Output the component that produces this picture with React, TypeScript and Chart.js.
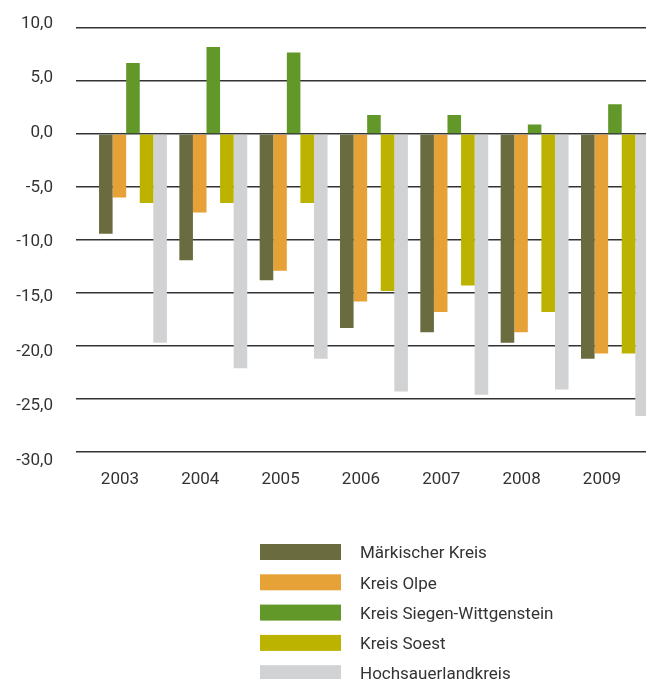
import { useEffect, useRef } from 'react';
import { Chart, registerables } from 'chart.js';

Chart.register(...registerables);

// Change in percent per district, 2003–2009
const years = ['2003', '2004', '2005', '2006', '2007', '2008', '2009'];
const maerkischerKreis = [-9.4, -11.9, -13.8, -18.3, -18.7, -19.7, -21.2];
const kreisOlpe = [-6.0, -7.4, -12.9, -15.8, -16.8, -18.7, -20.7];
const kreisSiegenWittgenstein = [6.7, 8.2, 7.7, 1.8, 1.8, 0.9, 2.8];
const kreisSoest = [-6.5, -6.5, -6.5, -14.8, -14.3, -16.8, -20.7];
const hochsauerlandkreis = [-19.7, -22.1, -21.2, -24.3, -24.6, -24.1, -26.6];

const seriesNames = [
  'Märkischer Kreis',
  'Kreis Olpe',
  'Kreis Siegen-Wittgenstein',
  'Kreis Soest',
  'Hochsauerlandkreis',
];
const seriesColors = ['#6a6b3e', '#e6a236', '#629829', '#bcb300', '#d1d2d3'];

const TEXT_COLOR = '#333333';
const FONT_FAMILY = 'Roboto, "Noto Sans", sans-serif';
const FONT_SIZE = 17;

const fmt = (v: number) => v.toFixed(1).replace('.', ',');

// Vertical legend drawn below the axis labels
const stackedLegend = {
  id: 'stackedLegend',
  afterDraw(chart: any) {
    const { ctx } = chart;
    const boxX = 260;
    const boxW = 81;
    const boxH = 16;
    const textX = 360;
    const firstTop = 544;
    const rowStep = 30.3;
    ctx.save();
    ctx.font = `${FONT_SIZE}px ${FONT_FAMILY}`;
    ctx.textBaseline = 'middle';
    ctx.textAlign = 'left';
    chart.data.datasets.forEach((ds: any, i: number) => {
      const top = firstTop + i * rowStep;
      ctx.fillStyle = ds.backgroundColor;
      ctx.fillRect(boxX, top, boxW, boxH);
      ctx.fillStyle = TEXT_COLOR;
      ctx.fillText(ds.label, textX, top + boxH / 2 + 2);
    });
    ctx.restore();
  },
};

export default function App() {
  const canvasRef = useRef<HTMLCanvasElement | null>(null);

  useEffect(() => {
    if (!canvasRef.current) return;
    const values = [
      maerkischerKreis,
      kreisOlpe,
      kreisSiegenWittgenstein,
      kreisSoest,
      hochsauerlandkreis,
    ];
    const chart = new Chart(canvasRef.current, {
      type: 'bar',
      data: {
        labels: years,
        datasets: values.map((data, i) => ({
          label: seriesNames[i],
          data,
          backgroundColor: seriesColors[i],
          borderWidth: 0,
          categoryPercentage: 0.845,
          barPercentage: 1.0,
          yAxisID: 'y',
        })),
      },
      options: {
        animation: false,
        responsive: false,
        devicePixelRatio: 1,
        layout: { padding: { left: 0, right: 44.9, top: 23.5, bottom: 179 } },
        plugins: {
          legend: { display: false },
          tooltip: { enabled: false },
        },
        scales: {
          x: {
            grid: { display: false, drawTicks: false },
            border: { display: false },
            ticks: {
              color: TEXT_COLOR,
              font: { family: FONT_FAMILY, size: FONT_SIZE },
              padding: 9,
              labelOffset: -13,
              maxRotation: 0,
              autoSkip: false,
            },
            afterFit: (s: any) => {
              s.height = 39.5;
            },
          },
          // value axis for the bars and horizontal rules
          y: {
            position: 'left',
            weight: 0,
            min: -30.8,
            max: 10.425,
            ticks: { display: false, stepSize: 5, includeBounds: false },
            grid: {
              color: '#333333',
              lineWidth: 1.5,
              drawTicks: true,
              tickLength: 16.8,
            },
            border: { display: false },
            afterBuildTicks: (s: any) => {
              s.ticks = s.ticks.filter((t: any) => Math.abs(t.value % 5) < 1e-9);
            },
            afterFit: (s: any) => {
              s.width = 39.8;
            },
          },
          // axis carrying the value labels
          yl: {
            position: 'left',
            weight: 1,
            min: -30,
            max: 10,
            ticks: {
              stepSize: 5,
              padding: 0,
              color: TEXT_COLOR,
              font: { family: FONT_FAMILY, size: FONT_SIZE },
              callback: (v: any) => fmt(Number(v)),
            },
            grid: { display: false, drawTicks: false },
            border: { display: false },
            afterFit: (s: any) => {
              s.width = 53;
            },
          },
        },
      } as any,
      plugins: [stackedLegend],
    });
    return () => chart.destroy();
  }, []);

  return (
    <div
      style={{
        position: 'fixed',
        left: 0,
        top: 0,
        width: 646,
        height: 679,
        overflow: 'hidden',
        background: '#ffffff',
      }}
    >
      <canvas
        ref={canvasRef}
        width={700}
        height={679}
        style={{ display: 'block', width: 700, height: 679 }}
      />
    </div>
  );
}
